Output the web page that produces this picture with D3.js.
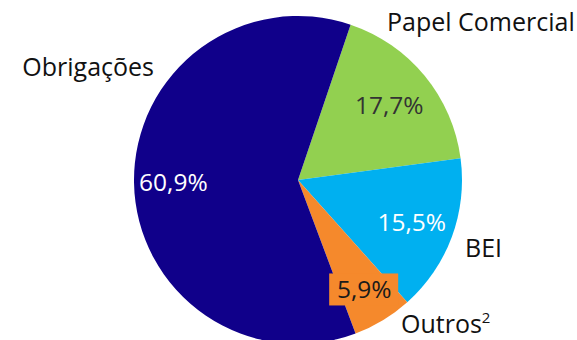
<!DOCTYPE html>
<html lang="pt">
<head>
  <meta charset="UTF-8" />
  <title>Estrutura de financiamento</title>
  <script src="https://d3js.org/d3.v7.min.js"></script>
  <style>
    html, body { margin: 0; padding: 0; background: #fff; }
    svg { display: block; font-family: "Open Sans", "Noto Sans", sans-serif; }
    .name { font-size: 25px; fill: #111; }
    .pct { font-size: 24.5px; }
  </style>
</head>
<body>
<svg width="577" height="340"></svg>
<script>
  // Dados (ordem no sentido horário, começando por Papel Comercial)
  const categorias = ["Papel Comercial", "BEI", "Outros", "Obrigações"];
  const valores = [17.7, 15.5, 5.9, 60.9];
  const cores = ["#92d050", "#00b0f0", "#f5892c", "#10008a"];
  const corTexto = ["#333333", "#ffffff", "#1a1a1a", "#ffffff"];

  const svg = d3.select("svg");
  const cx = 298, cy = 180, r = 164;
  const g = svg.append("g").attr("transform", `translate(${cx},${cy})`);

  const pie = d3.pie()
    .sort(null)
    .value(d => d.v)
    .startAngle(18.7 * Math.PI / 180)
    .endAngle((18.7 + 360) * Math.PI / 180);

  const dados = categorias.map((c, i) => ({ c, v: valores[i], i }));
  const arcs = pie(dados);

  const arc = d3.arc().innerRadius(0).outerRadius(r);

  g.selectAll("path.slice")
    .data(arcs)
    .enter()
    .append("path")
    .attr("class", "slice")
    .attr("d", arc)
    .attr("fill", d => cores[d.data.i]);

  // rótulos de percentagem
  const fmt = v => v.toFixed(1).replace(".", ",") + "%";
  const raioRot = [0.72, 0.74, 0.78, 0.76];

  const pct = g.selectAll("g.pct")
    .data(arcs)
    .enter()
    .append("g")
    .attr("class", "pct")
    .attr("transform", d => {
      const a = (d.startAngle + d.endAngle) / 2;
      const rr = r * raioRot[d.data.i];
      return `translate(${Math.sin(a) * rr},${-Math.cos(a) * rr})`;
    });

  // caixa laranja atrás do rótulo "Outros"
  pct.filter(d => d.data.c === "Outros")
    .append("rect")
    .attr("x", -35).attr("y", -16)
    .attr("width", 69).attr("height", 32)
    .attr("fill", cores[2]);

  pct.append("text")
    .attr("text-anchor", "middle")
    .attr("dy", "0.36em")
    .attr("fill", d => corTexto[d.data.i])
    .text(d => fmt(d.data.v));

  // nomes das categorias (posição relativa ao centro)
  const nomes = [
    { c: "Papel Comercial", x: 89, y: -149, anchor: "start" },
    { c: "BEI", x: 167, y: 77, anchor: "start" },
    { c: "Outros", x: 103, y: 153, anchor: "start", sup: "2" },
    { c: "Obrigações", x: -144, y: -104, anchor: "end" }
  ];

  const t = g.selectAll("text.name")
    .data(nomes)
    .enter()
    .append("text")
    .attr("class", "name")
    .attr("x", d => d.x)
    .attr("y", d => d.y)
    .attr("text-anchor", d => d.anchor)
    .text(d => d.c);

  t.filter(d => d.sup)
    .append("tspan")
    .attr("dy", -10)
    .attr("font-size", 15)
    .text(d => d.sup);
</script>
</body>
</html>
